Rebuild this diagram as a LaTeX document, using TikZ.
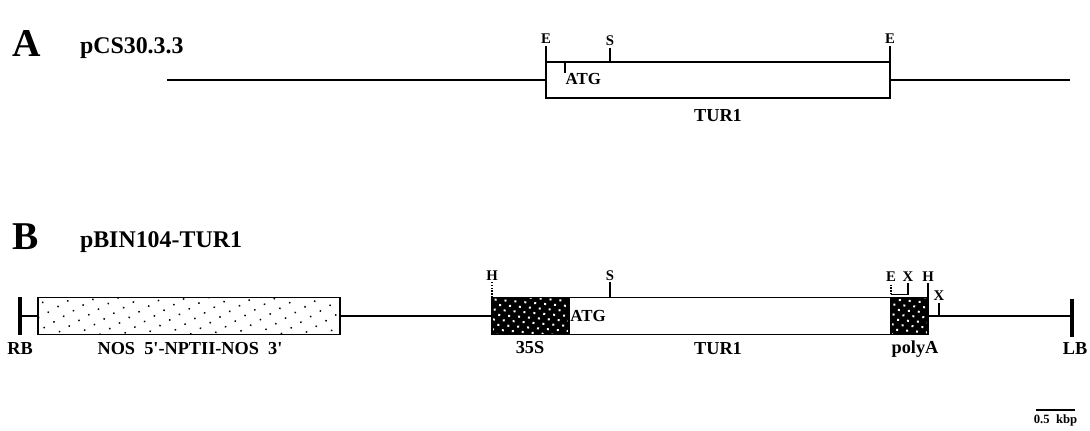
\documentclass[tikz,border=0pt]{standalone}
\usepackage{fontspec}
\setmainfont{Liberation Serif}
\usetikzlibrary{patterns.meta}

\begin{document}
\begin{tikzpicture}[x=0.025cm, y=-0.025cm, line width=1pt,
  every node/.style={font=\bfseries\fontsize{13}{15}\selectfont, inner sep=1pt, outer sep=0pt},
  site/.style={font=\bfseries\fontsize{10.5}{12}\selectfont, inner sep=1.5pt},
  panel/.style={font=\bfseries\fontsize{28}{30}\selectfont, anchor=base west, inner sep=0pt},
  plasmid/.style={font=\bfseries\fontsize{17}{20}\selectfont, anchor=base west, inner sep=0pt},
  genebox/.style={draw, line width=1.2pt, fill=white, minimum height=0.925cm},
  nosbox/.style={draw, line width=1.2pt, minimum height=0.925cm,
    pattern={Dots[radius=0.75pt,distance=8pt,angle=30]}},
  darkbox/.style={draw, line width=1.2pt, minimum height=0.925cm, preaction={fill=black},
    pattern={Dots[radius=1pt,distance=5pt,angle=40]}, pattern color=white},
  border/.style={line width=3.5pt}]
\useasboundingbox (0,0) rectangle (1090,431);

% A: pCS30.3.3
\node[panel] (lblA) at (12,57) {A};
\node[plasmid] (nameA) at (80,54) {pCS30.3.3};
\node[genebox, minimum width=8.6cm, minimum height=0.9cm] (turA) at (718,80) {};
\coordinate (startA) at (167,80);
\coordinate (endA) at (1070,80);
\draw (startA) -- (turA.west) (turA.east) -- (endA);
\draw (turA.north west) -- ++(0,-16) node[site,above] (eA1) {E};
\draw (turA.north west) ++(64,0) -- ++(0,-14) node[site,above] (sA) {S};
\draw (turA.north east) -- ++(0,-16) node[site,above] (eA2) {E};
\draw (turA.north west) ++(19,0) -- ++(0,11) node[anchor=north west, font=\bfseries\fontsize{12}{14}\selectfont, inner sep=0.5pt] (atgA) {ATG};
\node (turlblA) at (718,116) {TUR1};

% B: pBIN104-TUR1
\node[panel] (lblB) at (12,250) {B};
\node[plasmid] (nameB) at (80,248) {pBIN104-TUR1};
\coordinate (rbTop) at (20,297);
\coordinate (rbBot) at (20,335);
\coordinate (lbTop) at (1072,299);
\coordinate (lbBot) at (1072,337);
\draw[border] (rbTop) -- (rbBot);
\draw[border] (lbTop) -- (lbBot);
\node[nosbox, minimum width=7.55cm] (nos) at (189,316) {};
\node[darkbox, minimum width=1.925cm] (p35S) at (530.5,316) {};
\node[genebox, minimum width=8.05cm] (turB) at (730,316) {};
\node[darkbox, minimum width=0.925cm] (polyA) at (909.5,316) {};
\draw (rbTop |- nos.west) -- (nos.west) (nos.east) -- (p35S.west);
\draw (polyA.east) -- (lbTop |- polyA.east);
\draw[densely dotted] (p35S.north west) -- ++(0,-15) node[site,above] (hB1) {H};
\draw (turB.north west) ++(41,0) -- ++(0,-15) node[site,above] (sB) {S};
\draw[densely dotted] (polyA.north west) ++(0,-3) coordinate (eTick) -- ++(0,-11) node[site,above] (eB) {E};
\draw (eTick) -- ++(17,0) -- ++(0,-11) node[site,above] (xB1) {X};
\draw (polyA.north east) -- ++(0,-14) node[site,above] (hB2) {H};
\draw (polyA.east) ++(11,0) -- ++(0,-13) node[site,above] (xB2) {X};
\node[anchor=west, font=\bfseries\fontsize{12}{14}\selectfont] (atgB) at (p35S.east) {ATG};
\node (rblbl) at (20,349) {RB};
\node (noslbl) at (190,349) {NOS\ \ 5\textquotesingle-NPTII-NOS\ \ 3\textquotesingle};
\node (p35lbl) at (530,348) {35S};
\node (turlblB) at (718,349) {TUR1};
\node (polylbl) at (915,349) {polyA};
\node (lblbl) at (1075,349) {LB};

% scale bar
\coordinate (bar0) at (1036,410);
\coordinate (bar1) at (1075,410);
\draw[line width=1.5pt] (bar0) -- (bar1) node[midway, below, inner sep=3pt, font=\bfseries\fontsize{9}{10}\selectfont] (barlbl) {0.5\ \ kbp};
\end{tikzpicture}
\end{document}
